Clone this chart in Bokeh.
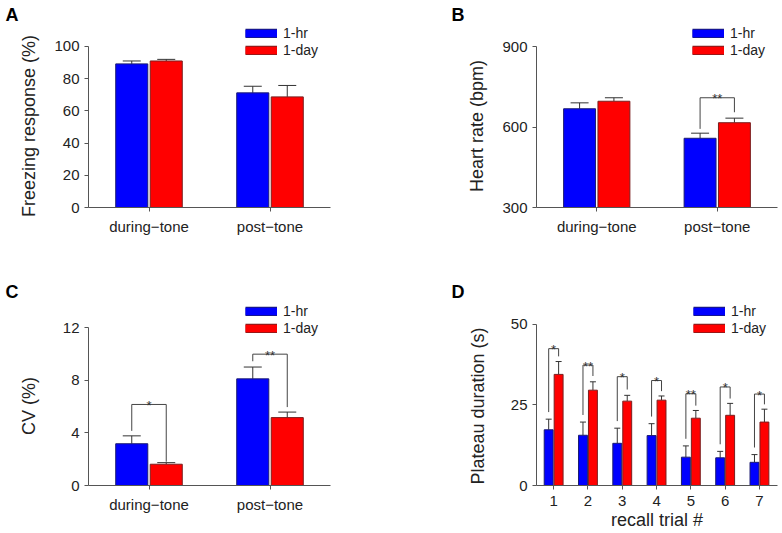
from bokeh.plotting import figure
from bokeh.models import (FixedTicker, Legend, LegendItem, ColumnDataSource,
                          Range1d, Whisker, TeeHead)
from bokeh.layouts import column, row
from bokeh.embed import file_html
from bokeh.resources import INLINE
from bokeh.core.properties import value

FONT = "Liberation Sans"
BLUE = "#0000FF"
RED = "#FF0000"
BLUE_EDGE = "#1c1c70"
RED_EDGE = "#7a1f1f"
AXIS = "#555555"
TXT = "#222222"
ERR = "#333333"
NBSP = "\u00a0"
NAN = float("nan")

# ---------------- data ----------------
series = ["1-hr", "1-day"]
conditions = ["during−tone", "post−tone"]
condition_pos = [1, 3]

# A: Freezing response (%)
freeze_1hr = [89.2, 71.2]
freeze_1hr_sem = [1.8, 4.1]
freeze_1day = [91.0, 68.7]
freeze_1day_sem = [1.0, 7.1]
freeze_ticks = [0, 20, 40, 60, 80, 100]

# B: Heart rate (bpm)
hr_1hr = [668, 558]
hr_1hr_sem = [22, 19]
hr_1day = [696, 616]
hr_1day_sem = [13, 17]
hr_ticks = [300, 600, 900]
hr_br_cond = [3]
hr_br_top = [709]
hr_br_left_bottom = [593]
hr_br_right_bottom = [655]
hr_br_label = ["**"]

# C: CV (%)
cv_1hr = [3.18, 8.12]
cv_1hr_sem = [0.60, 0.90]
cv_1day = [1.62, 5.17]
cv_1day_sem = [0.12, 0.42]
cv_ticks = [0, 4, 8, 12]
cv_br_cond = [1, 3]
cv_br_top = [6.17, 10.0]
cv_br_left_bottom = [4.16, 9.46]
cv_br_right_bottom = [1.81, 5.97]
cv_br_label = ["*", "**"]

# D: Plateau duration (s) per recall trial
trials = [1, 2, 3, 4, 5, 6, 7]
plateau_1hr = [17.3, 15.6, 13.1, 15.5, 8.8, 8.6, 7.2]
plateau_1hr_sem = [3.3, 4.1, 4.7, 3.7, 3.5, 2.0, 2.4]
plateau_1day = [34.5, 29.6, 26.2, 26.5, 20.9, 21.8, 19.7]
plateau_1day_sem = [4.0, 2.6, 1.8, 1.3, 2.4, 3.7, 4.0]
plateau_ticks = [0, 25, 50]
pl_br_top = [42.5, 37.4, 33.8, 32.6, 28.5, 30.6, 28.4]
pl_br_left_bottom = [22.8, 21.9, 20.0, 21.4, 14.5, 12.8, 11.8]
pl_br_right_bottom = [40.1, 34.0, 29.8, 29.3, 24.8, 27.0, 25.2]
pl_br_label = ["*", "**", "*", "*", "**", "*", "*"]


def make_fig(width, height, xr, yr, left, right, top, bottom, letter, letter_offset):
    p = figure(width=width, height=height,
               x_range=Range1d(*xr), y_range=Range1d(*yr),
               output_backend="svg", toolbar_location=None,
               min_border_left=left, min_border_right=right,
               min_border_top=top, min_border_bottom=bottom)
    p.outline_line_color = None
    p.grid.visible = False
    p.title.text = letter
    p.title.align = "left"
    p.title.offset = letter_offset
    p.title.standoff = 0
    p.title.vertical_align = "bottom"
    p.title.text_font = FONT
    p.title.text_font_size = "18px"
    p.title.text_font_style = "bold"
    p.title.text_color = "black"
    for ax in p.axis:
        ax.axis_line_color = AXIS
        ax.major_tick_line_color = AXIS
        ax.minor_tick_line_color = None
        ax.major_tick_in = 0
        ax.major_tick_out = 4
        ax.major_label_text_font = FONT
        ax.major_label_text_font_size = "15px"
        ax.major_label_text_color = TXT
        ax.axis_label_text_font = FONT
        ax.axis_label_text_font_size = "18px"
        ax.axis_label_text_font_style = "normal"
        ax.axis_label_text_color = TXT
    p.xaxis.major_label_standoff = 6
    return p


def add_bars(p, xs, v1, s1, v2, s2, base, off, width, cap):
    x1 = [x - off for x in xs]
    x2 = [x + off for x in xs]
    src1 = ColumnDataSource(dict(x=x1, top=v1, upper=[a + b for a, b in zip(v1, s1)]))
    src2 = ColumnDataSource(dict(x=x2, top=v2, upper=[a + b for a, b in zip(v2, s2)]))
    p.vbar(x="x", top="top", bottom=base, width=width, source=src1,
           fill_color=BLUE, line_color=BLUE_EDGE, line_width=1)
    p.vbar(x="x", top="top", bottom=base, width=width, source=src2,
           fill_color=RED, line_color=RED_EDGE, line_width=1)
    for src in (src1, src2):
        p.add_layout(Whisker(base="x", lower="top", upper="upper", source=src,
                             dimension="height", line_color=ERR, line_width=1,
                             lower_head=None,
                             upper_head=TeeHead(size=cap, line_color=ERR, line_width=1)))


def add_brackets(p, xs, off, tops, lb, rb, labels):
    xl = [x - off for x in xs]
    xr = [x + off for x in xs]
    src = ColumnDataSource(dict(
        xs=[[a, a, b, b] for a, b in zip(xl, xr)],
        ys=[[l, t, t, r] for l, t, r in zip(lb, tops, rb)]))
    p.multi_line(xs="xs", ys="ys", source=src, line_color="#444444", line_width=1)
    tsrc = ColumnDataSource(dict(x=list(xs), y=list(tops), t=labels))
    p.text(x="x", y="y", text="t", source=tsrc, text_align="center",
           text_baseline="alphabetic", y_offset=1,
           text_font=value(FONT), text_font_size="13px", text_color="#333333")


def add_legend(p, loc):
    items = []
    for name, fill, edge in zip(series, [BLUE, RED], [BLUE_EDGE, RED_EDGE]):
        r_edge = p.line(x=[NAN], y=[NAN], line_color=edge, line_width=9.5, line_cap="butt")
        r_fill = p.line(x=[NAN], y=[NAN], line_color=fill, line_width=7.5, line_cap="butt")
        items.append(LegendItem(label=name, renderers=[r_edge, r_fill]))
    leg = Legend(items=items, location=loc, orientation="vertical",
                 glyph_width=32, glyph_height=10, label_height=10,
                 spacing=1, padding=0, margin=0, label_standoff=6,
                 border_line_color=None, background_fill_alpha=0,
                 label_text_font=FONT, label_text_font_size="14px",
                 label_text_color=TXT)
    p.add_layout(leg, "center")


cond_labels = {pos: lab for pos, lab in zip(condition_pos, conditions)}

# ---------------- Panel A ----------------
pA = make_fig(391, 270, (0, 5.008), (0, 113.66), 88, 0, 24, 63, "A", -83)
pA.yaxis.ticker = FixedTicker(ticks=freeze_ticks)
pA.yaxis.bounds = (0, 100)
pA.xaxis.ticker = FixedTicker(ticks=condition_pos)
pA.xaxis.major_label_overrides = cond_labels
pA.xaxis.bounds = (0, 4)
pA.yaxis.axis_label = "Freezing response (%)" + NBSP * 4
pA.yaxis.axis_label_standoff = 12
add_bars(pA, condition_pos, freeze_1hr, freeze_1hr_sem, freeze_1day, freeze_1day_sem,
         0, 0.285, 0.53, 18)
add_legend(pA, (157, 149))

# ---------------- Panel B ----------------
pB = make_fig(391, 270, (0, 4.0), (300, 982.0), 145, 5, 24, 63, "B", -85)
pB.yaxis.ticker = FixedTicker(ticks=hr_ticks)
pB.yaxis.bounds = (300, 900)
pB.xaxis.ticker = FixedTicker(ticks=condition_pos)
pB.xaxis.major_label_overrides = cond_labels
pB.yaxis.axis_label = "Heart rate (bpm)" + NBSP * 4
pB.yaxis.axis_label_standoff = 12
add_bars(pB, condition_pos, hr_1hr, hr_1hr_sem, hr_1day, hr_1day_sem,
         300, 0.285, 0.53, 18)
add_brackets(pB, hr_br_cond, 0.285, hr_br_top, hr_br_left_bottom, hr_br_right_bottom,
             hr_br_label)
add_legend(pB, (156, 149))

# ---------------- Panel C ----------------
pC = make_fig(391, 263, (0, 5.008), (0, 14.01), 88, 0, 27, 48, "C", -83)
pC.yaxis.ticker = FixedTicker(ticks=cv_ticks)
pC.yaxis.bounds = (0, 12)
pC.xaxis.ticker = FixedTicker(ticks=condition_pos)
pC.xaxis.major_label_overrides = cond_labels
pC.xaxis.bounds = (0, 4)
pC.yaxis.axis_label = "CV (%)" + NBSP * 5
pC.yaxis.axis_label_standoff = 21
add_bars(pC, condition_pos, cv_1hr, cv_1hr_sem, cv_1day, cv_1day_sem,
         0, 0.285, 0.53, 18)
add_brackets(pC, cv_br_cond, 0.285, cv_br_top, cv_br_left_bottom, cv_br_right_bottom,
             cv_br_label)
add_legend(pC, (157, 149.5))

# ---------------- Panel D ----------------
pD = make_fig(391, 263, (0.5, 7.526), (0, 57.14), 145, 5, 31, 48, "D", -85)
pD.yaxis.ticker = FixedTicker(ticks=plateau_ticks)
pD.yaxis.bounds = (0, 50)
pD.xaxis.ticker = FixedTicker(ticks=trials)
pD.xaxis.axis_label = "recall trial #"
pD.xaxis.axis_label_standoff = 1
pD.yaxis.axis_label = "Plateau duration (s)" + NBSP * 5
pD.yaxis.axis_label_standoff = 20
add_bars(pD, trials, plateau_1hr, plateau_1hr_sem, plateau_1day, plateau_1day_sem,
         0, 0.145, 0.26, 6)
add_brackets(pD, trials, 0.145, pl_br_top, pl_br_left_bottom, pl_br_right_bottom,
             pl_br_label)
add_legend(pD, (157, 149.5))

layout = column(row(pA, pB), row(pC, pD))
open("out.html", "w").write(file_html(layout, INLINE))
